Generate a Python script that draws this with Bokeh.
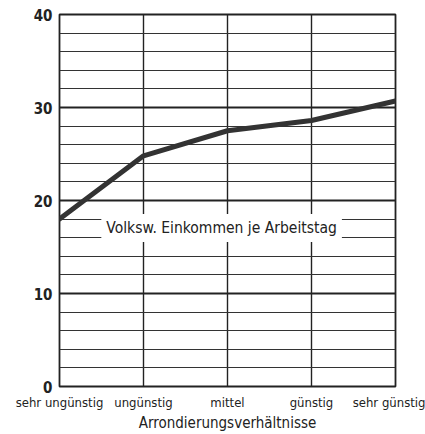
from bokeh.plotting import figure
from bokeh.models import Range1d, FixedTicker, SingleIntervalTicker, Label
from bokeh.embed import file_html
from bokeh.resources import INLINE

categories = ["sehr ungünstig", "ungünstig", "mittel", "günstig", "sehr günstig"]
values = [18.0, 24.8, 27.5, 28.6, 30.7]
series_label = "Volksw. Einkommen je Arbeitstag"
x_title = "Arrondierungsverhältnisse"

xs = list(range(len(categories)))
FONT = "DejaVu Sans Condensed"

p = figure(width=425, height=434, output_backend="svg", toolbar_location=None,
           x_range=Range1d(0, len(categories) - 1), y_range=Range1d(0, 40),
           min_border_left=59, min_border_right=30, min_border_top=14, min_border_bottom=45,
           background_fill_color="white", border_fill_color="white")

p.outline_line_color = "#222222"
p.outline_line_width = 1.8

# axes
p.xaxis.ticker = FixedTicker(ticks=xs)
p.xaxis.major_label_overrides = {i: c for i, c in zip(xs, categories)}
p.yaxis.ticker = SingleIntervalTicker(interval=10, num_minor_ticks=5)
for ax in (p.xaxis, p.yaxis):
    ax.axis_line_color = None
    ax.major_tick_line_color = None
    ax.minor_tick_line_color = None
    ax.major_tick_out = 0
    ax.minor_tick_out = 0
    ax.major_tick_in = 0
    ax.minor_tick_in = 0
    ax.major_label_text_color = "#222222"
    ax.major_label_text_font = FONT
p.xaxis.major_label_text_font_size = "13px"
p.xaxis.major_label_standoff = 8
p.yaxis.major_label_text_font_size = "15px"
p.yaxis.major_label_text_font_style = "bold"
p.yaxis.major_label_standoff = 7
p.xaxis.axis_label = x_title
p.xaxis.axis_label_text_font = FONT
p.xaxis.axis_label_text_font_style = "normal"
p.xaxis.axis_label_text_font_size = "15px"
p.xaxis.axis_label_text_color = "#222222"
p.xaxis.axis_label_standoff = 1

# grids
p.xgrid.ticker = FixedTicker(ticks=xs)
p.xgrid.grid_line_color = "#222222"
p.xgrid.grid_line_width = 1.4
p.ygrid.grid_line_color = "#222222"
p.ygrid.grid_line_width = 2
p.ygrid.minor_grid_line_color = "#333333"
p.ygrid.minor_grid_line_width = 1

p.line(xs, values, line_color="#333333", line_width=5, line_join="round", line_cap="round")

lab = Label(x=1.93, y=17.05, text=series_label, text_align="center", text_baseline="middle",
            text_font=FONT, text_font_size="15.5px", text_color="#222222",
            background_fill_color="white", border_line_color=None)
lab.padding = 5
p.add_layout(lab)

open("out.html", "w").write(file_html(p, INLINE))
